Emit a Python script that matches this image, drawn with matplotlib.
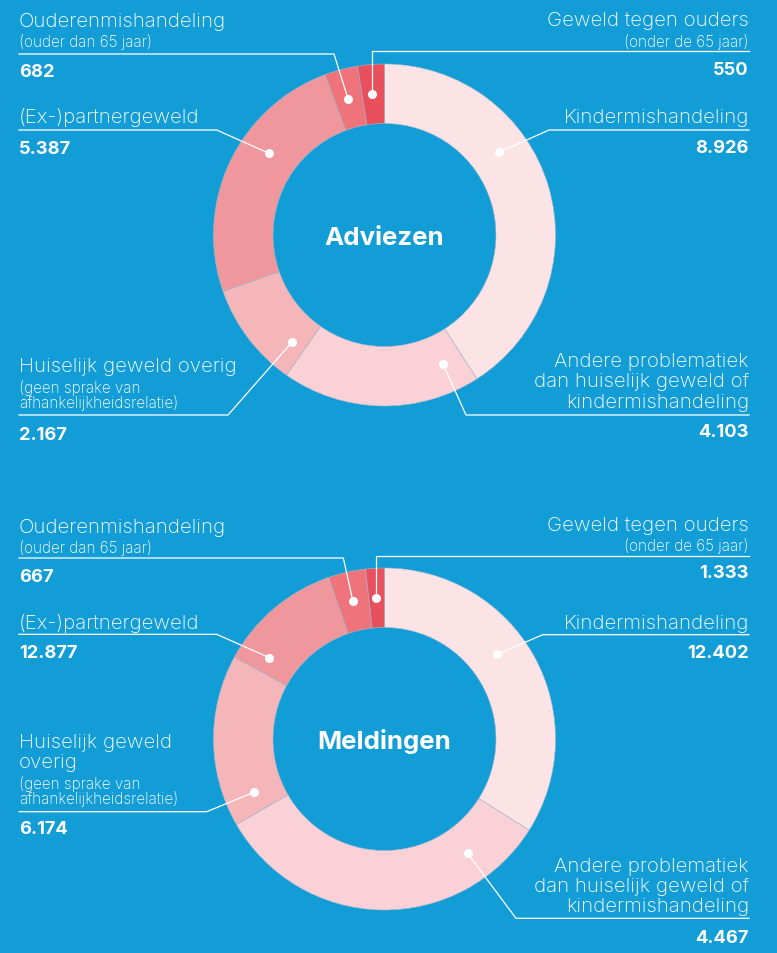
import numpy as np
import matplotlib.pyplot as plt

# Adviezen en meldingen per type problematiek (two donuts)

W, H = 777, 954
BG = '#129DD7'
RING_COLORS = ['#FCE4E6', '#F9D1D6', '#F5B6BA', '#F0979D', '#EE737B', '#E9505D']

categories = ['Kindermishandeling', 'Andere problematiek', 'Huiselijk geweld overig',
              '(Ex-)partnergeweld', 'Ouderenmishandeling', 'Geweld tegen ouders']
adviezen = [8926, 4103, 2167, 5387, 682, 550]
meldingen = [12402, 4467, 6174, 12877, 667, 1333]
# segments of the Meldingen ring as drawn in the source (they do not follow the labels)
meldingen_ring = [12877, 12402, 6174, 4467, 1333, 667]

R_OUT, R_IN = 171, 111.5
R_MID = (R_OUT + R_IN) / 2
X_LEFT, X_RIGHT = 19, 749
FONT = 'Inter'

# label layout: side, text lines (text, kind, baseline), rule y, knee x, dot angle, value baseline
adv_layout = [
    ('R', [('Kindermishandeling', 'big', 123.3)], 131, 549, 35.8, 152.7),
    ('R', [('Andere problematiek', 'big', 367.3), ('dan huiselijk geweld of', 'big', 387.3),
           ('kindermishandeling', 'big', 408.3)], 416, 466, -65.6, 437.3),
    ('L', [('Huiselijk geweld overig', 'big', 371.7), ('(geen sprake van', 'small', 392.5),
           ('afhankelijkheidsrelatie)', 'small', 407.8)], 416, 228, -130.8, 440.5),
    ('L', [('(Ex-)partnergeweld', 'big', 122.7)], 131, 216.7, 144.7, 154),
    ('L', [('Ouderenmishandeling', 'big', 27.3), ('(ouder dan 65 jaar)', 'small', 46.7)], 55, 334, 105, 77.3),
    ('R', [('Geweld tegen ouders', 'big', 26), ('(onder de 65 jaar)', 'small', 46.7)], 52, None, 94.9, 75),
]
meld_layout = [
    ('R', [('Kindermishandeling', 'big', 629)], 635.7, 542.7, 36.9, 658.3),
    ('R', [('Andere problematiek', 'big', 872.3), ('dan huiselijk geweld of', 'big', 892.3),
           ('kindermishandeling', 'big', 911.7)], 919.3, 516, -54, 943.3),
    ('L', [('Huiselijk geweld', 'big', 748.3), ('overig', 'big', 768.3), ('(geen sprake van', 'small', 788.8),
           ('afhankelijkheidsrelatie)', 'small', 804.2)], 812.7, 206.7, -157.8, 834),
    ('L', [('(Ex-)partnergeweld', 'big', 629.3)], 635.3, 216.7, 144.8, 658.3),
    ('L', [('Ouderenmishandeling', 'big', 532.7), ('(ouder dan 65 jaar)', 'small', 552.7)], 559, 343.3, 102.9, 581.7),
    ('R', [('Geweld tegen ouders', 'big', 530.7), ('(onder de 65 jaar)', 'small', 550.7)], 557.3, None, 93.5, 578.3),
]

SIZES = {'big': 14.7, 'small': 11.0}


def fmt(v):
    return f'{v:,}'.replace(',', '.')


def donut(ax, cx, cy, sizes, title, title_base):
    ax.pie(sizes, colors=RING_COLORS, center=(cx, H - cy), radius=R_OUT,
           startangle=90, counterclock=False,
           wedgeprops=dict(width=R_OUT - R_IN, edgecolor='#A7B7CB', linewidth=0.4))
    ax.text(cx, H - title_base, title, ha='center', va='baseline', color='white',
            fontsize=18.6, fontweight='bold', family=FONT)


def labels(ax, cx, cy, layout, values):
    for (side, lines, rule_y, knee_x, ang, val_y), v in zip(layout, values):
        a = np.radians(ang)
        px = cx + R_MID * np.cos(a)
        py = (H - cy) + R_MID * np.sin(a)
        if knee_x is None:
            knee_x = px
        end_x = X_LEFT if side == 'L' else X_RIGHT
        ax.plot([px, knee_x, end_x], [py, H - rule_y, H - rule_y], color='white', lw=0.9, zorder=3)
        ax.plot(px, py, 'o', ms=6.5, color='white', mec='none', zorder=4)
        ha = 'left' if side == 'L' else 'right'
        for text, kind, yb in lines:
            ax.text(end_x, H - yb, text, ha=ha, va='baseline', color='white',
                    fontsize=SIZES[kind], fontweight='light', family=FONT)
        ax.text(end_x, H - val_y, fmt(v), ha=ha, va='baseline', color='white',
                fontsize=13.2, fontweight='bold', family=FONT)


fig = plt.figure(figsize=(W / 100, H / 100), dpi=100, facecolor=BG)
ax = fig.add_axes([0, 0, 1, 1])
ax.set_facecolor(BG)

donut(ax, 384.5, 236, adviezen, 'Adviezen', 245)
labels(ax, 384.5, 236, adv_layout, adviezen)

donut(ax, 384.5, 740, meldingen_ring, 'Meldingen', 749.3)
labels(ax, 384.5, 740, meld_layout, meldingen)

ax.set_xlim(0, W)
ax.set_ylim(0, H)
ax.set_aspect('equal')
ax.axis('off')

fig.savefig('out.png', dpi=100, facecolor=BG)
